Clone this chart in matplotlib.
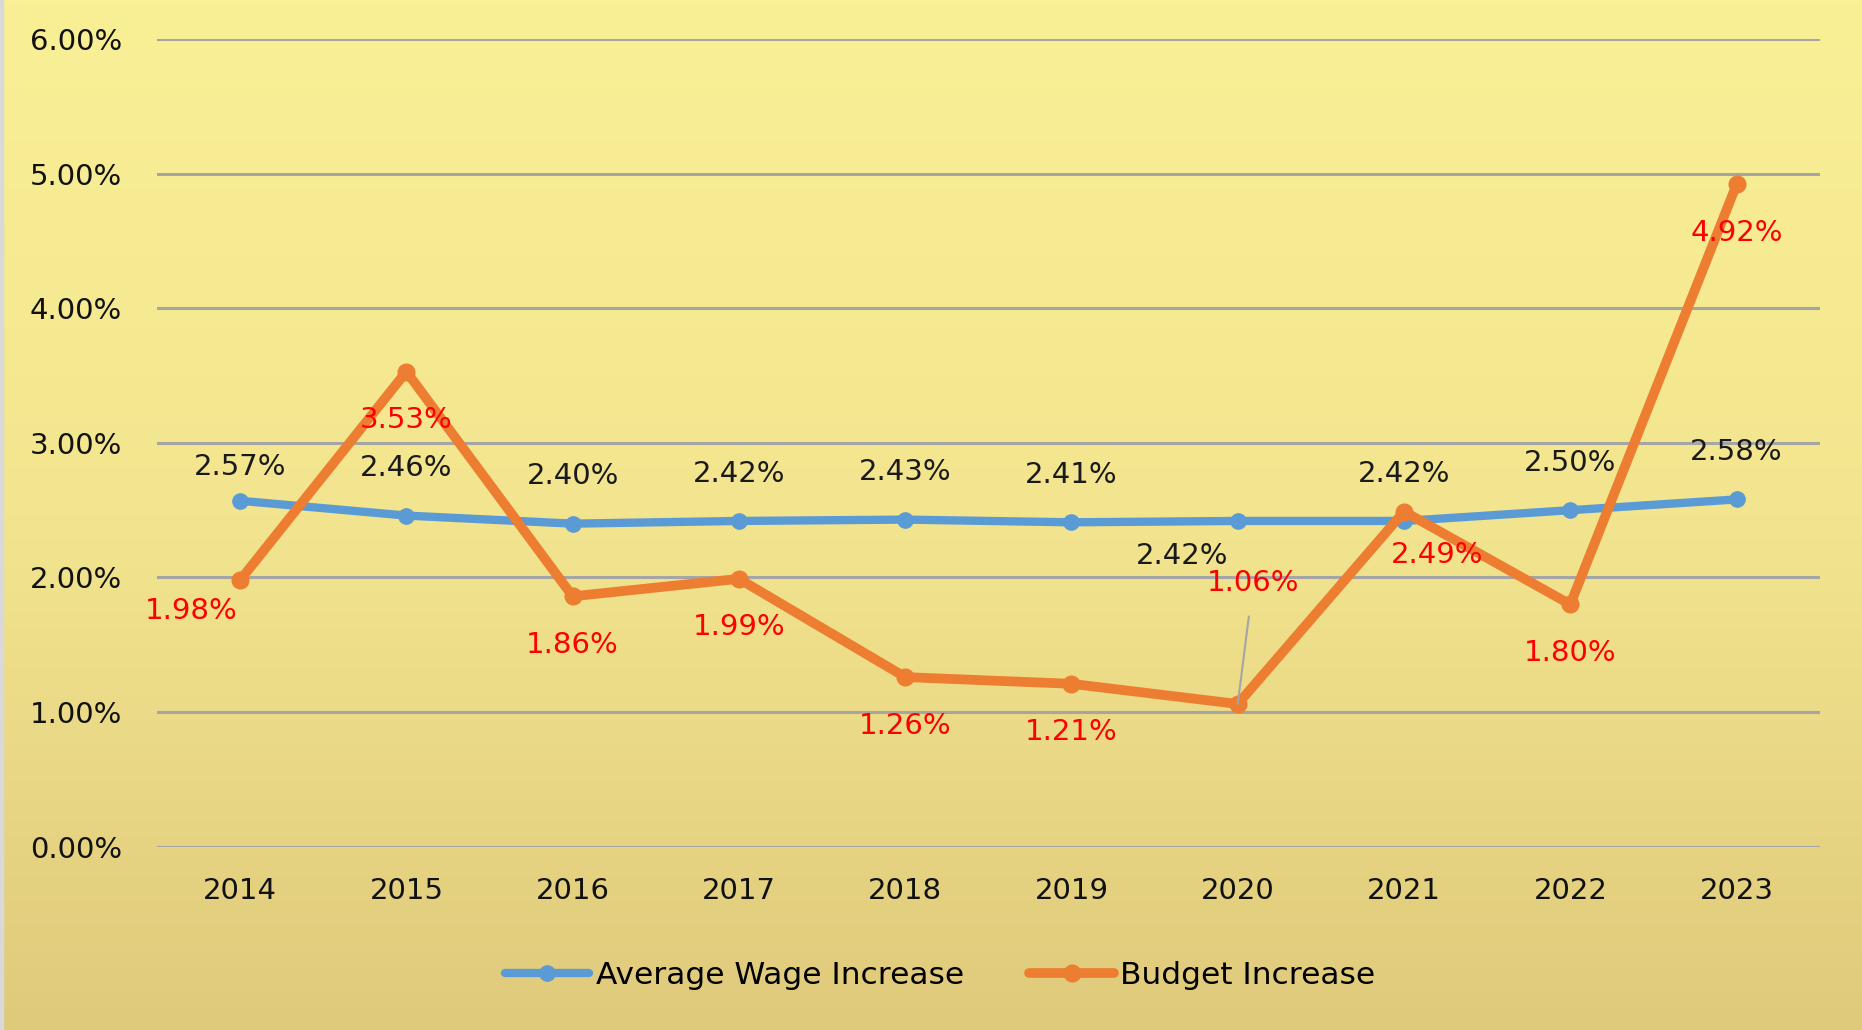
import matplotlib
matplotlib.use('Agg')
import matplotlib.pyplot as plt
import numpy as np
from matplotlib.colors import LinearSegmentedColormap

years = ['2014', '2015', '2016', '2017', '2018', '2019', '2020', '2021', '2022', '2023']
wage_increase = [2.57, 2.46, 2.40, 2.42, 2.43, 2.41, 2.42, 2.42, 2.50, 2.58]
budget_increase = [1.98, 3.53, 1.86, 1.99, 1.26, 1.21, 1.06, 2.49, 1.80, 4.92]
y_ticks = [0, 1, 2, 3, 4, 5, 6]

plt.rcParams['font.family'] = ['DejaVu Sans']

azul = '#5B9BD5'
laranja = '#ED7D31'
tamanho = 21

figura = plt.figure(figsize=(18.62, 10.30), dpi=100)

# fundo em degrade amarelo (claro em cima, mais escuro embaixo)
fundo = figura.add_axes([0, 0, 1, 1], zorder=-10)
mapa = LinearSegmentedColormap.from_list('fundo', ['#F9F096', '#F3E58F', '#DFCA7B'])
gradiente = np.linspace(0, 1, 256).reshape(-1, 1)
fundo.imshow(gradiente, cmap=mapa, aspect='auto', extent=[0, 1, 0, 1], origin='upper')
fundo.axvspan(0, 0.0015, color='#D9D9D9')
fundo.set_xlim(0, 1)
fundo.set_ylim(0, 1)
fundo.axis('off')

eixo = figura.add_axes([0.0843, 0.178, 0.893, 0.784])
eixo.patch.set_alpha(0)
x = np.arange(len(years))

eixo.plot(x, wage_increase, color=azul, linewidth=6, marker='o', markersize=11,
          label='Average Wage Increase', zorder=3, solid_capstyle='round')
eixo.plot(x, budget_increase, color=laranja, linewidth=7, marker='o', markersize=12,
          label='Budget Increase', zorder=4, solid_capstyle='round')

eixo.set_xlim(-0.5, len(years) - 0.5)
eixo.set_ylim(0, 6)
eixo.set_yticks(y_ticks)
eixo.set_yticklabels(['{:.2f}%'.format(v) for v in y_ticks])
eixo.set_xticks(x)
eixo.set_xticklabels(years)
eixo.grid(axis='y', color='#A5A5A5', linewidth=2.2)
eixo.set_axisbelow(True)
for lado in eixo.spines.values():
    lado.set_visible(False)
eixo.tick_params(axis='both', length=0, labelsize=tamanho, colors='#111111')
eixo.tick_params(axis='y', pad=25)
eixo.tick_params(axis='x', pad=22)

# rotulos de dados
desvio_salario = {0: (0, 24), 6: (-40, -25)}
for i, v in enumerate(wage_increase):
    dx, dy = desvio_salario.get(i, (0, 34))
    eixo.annotate('{:.2f}%'.format(v), (x[i], v), xytext=(dx, dy),
                  textcoords='offset points', ha='center', va='center',
                  fontsize=tamanho, color='#1A1A1A', zorder=6)

desvio_orcamento = {0: (-35, -22), 7: (24, -31)}
for i, v in enumerate(budget_increase):
    if i == 6:
        eixo.annotate('{:.2f}%'.format(v), (x[i], v), xytext=(11, 87),
                      textcoords='offset points', ha='center', va='center',
                      fontsize=tamanho, color='#FF0000', zorder=6,
                      arrowprops=dict(arrowstyle='-', color='#A5A5A5', lw=1.5,
                                      shrinkA=12, shrinkB=0))
        continue
    dx, dy = desvio_orcamento.get(i, (0, -35))
    eixo.annotate('{:.2f}%'.format(v), (x[i], v), xytext=(dx, dy),
                  textcoords='offset points', ha='center', va='center',
                  fontsize=tamanho, color='#FF0000', zorder=6)

legenda = eixo.legend(loc='center', bbox_to_anchor=(0.471, -0.159), ncol=2,
                      frameon=False, fontsize=22.5, handlelength=2.7,
                      columnspacing=2.1, handletextpad=0.2)

figura.savefig('out.png', dpi=100)
